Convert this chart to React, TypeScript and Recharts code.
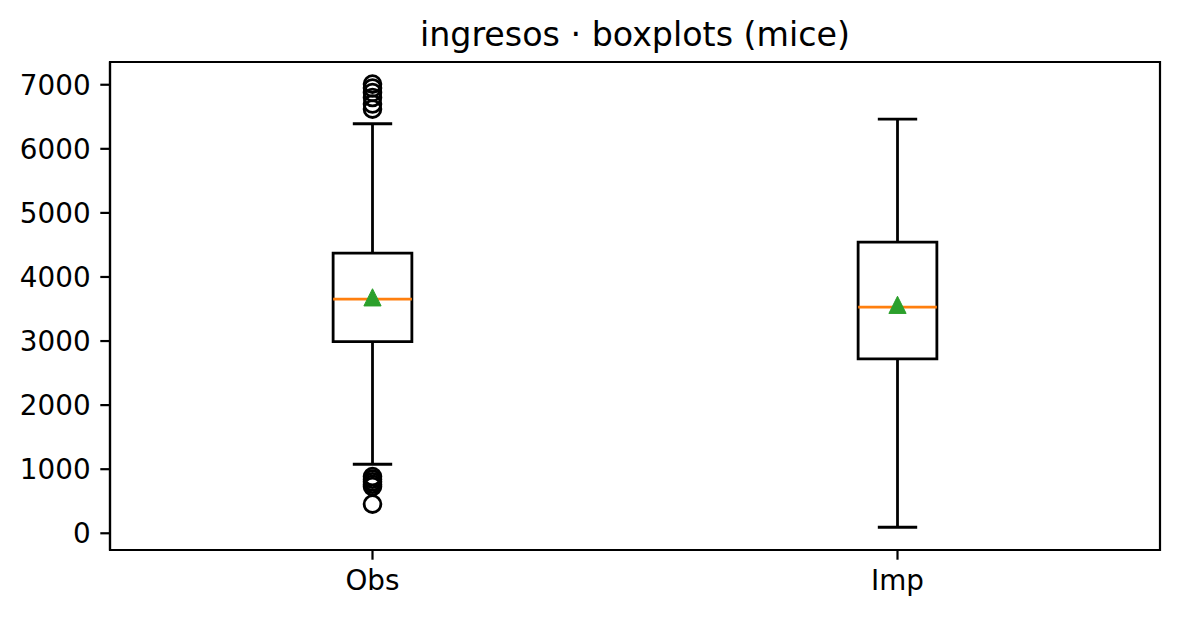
import React from "react";
import {
  ComposedChart,
  XAxis,
  YAxis,
  Scatter,
  ReferenceLine,
  ReferenceArea,
} from "recharts";

const categories = ["Obs", "Imp"];
const positions = [1, 2];
const q1Values = [2992, 2722];
const q3Values = [4372, 4544];
const medianValues = [3654, 3529];
const meanValues = [3682, 3565];
const whiskerLow = [1077, 94];
const whiskerHigh = [6391, 6465];
const outliersObs = [7010, 6950, 6880, 6800, 6700, 6620, 885, 845, 805, 765, 730, 455];
const outliersImp: number[] = [];
const yTicks = [0, 1000, 2000, 3000, 4000, 5000, 6000, 7000];

const Y_MIN = -261;
const Y_MAX = 7355;
const BOX_HALF = 0.075;
const CAP_HALF = 0.0375;

const W = 1180;
const H = 617;
const FONT = "DejaVu Sans";
const LW = 2.8;
const SPINE = 2.2;

const meanData = positions.map((p, i) => ({ x: p, y: meanValues[i] }));
const outlierData = [
  ...outliersObs.map((v) => ({ x: positions[0], y: v })),
  ...outliersImp.map((v) => ({ x: positions[1], y: v })),
];

const Triangle = (props: any) => {
  const { cx, cy } = props;
  if (cx == null || cy == null) return null;
  const s = 8.6;
  return (
    <polygon
      points={`${cx},${cy - s} ${cx - s},${cy + s} ${cx + s},${cy + s}`}
      fill="#2ca02c"
      stroke="#2ca02c"
      strokeWidth={1}
    />
  );
};

const Circle = (props: any) => {
  const { cx, cy } = props;
  if (cx == null || cy == null) return null;
  return <circle cx={cx} cy={cy} r={8.4} fill="none" stroke="#000" strokeWidth={LW} />;
};

export default function App() {
  return (
    <div style={{ position: "absolute", left: 0, top: 0, width: W, height: H, background: "#fff" }}>
      <svg
        width={W}
        height={H}
        style={{ position: "absolute", left: 0, top: 0, pointerEvents: "none", zIndex: 2 }}
      >
        <text
          x={635}
          y={46}
          textAnchor="middle"
          fontFamily={FONT}
          fontSize={33.3}
          fill="#000"
        >
          ingresos · boxplots (mice)
        </text>
      </svg>
      <ComposedChart
        width={W}
        height={H}
        margin={{ top: 62, right: 20, bottom: 0, left: 0 }}
        style={{ position: "absolute", left: 0, top: 0 }}
      >
        <XAxis
          type="number"
          dataKey="x"
          domain={[0.5, 2.5]}
          ticks={positions}
          tickFormatter={(v: number) => categories[positions.indexOf(v)] ?? ""}
          allowDataOverflow
          height={67}
          tickSize={9.7}
          tickMargin={10.5}
          axisLine={{ stroke: "#000", strokeWidth: SPINE }}
          tickLine={{ stroke: "#000", strokeWidth: SPINE }}
          tick={{ fill: "#000", fontFamily: FONT, fontSize: 27.8 }}
        />
        <YAxis
          type="number"
          dataKey="y"
          domain={[Y_MIN, Y_MAX]}
          ticks={yTicks}
          allowDataOverflow
          width={110}
          tickSize={9.7}
          tickMargin={9.7}
          axisLine={{ stroke: "#000", strokeWidth: SPINE }}
          tickLine={{ stroke: "#000", strokeWidth: SPINE }}
          tick={{ fill: "#000", fontFamily: FONT, fontSize: 27.8 }}
        />
        <ReferenceArea
          x1={0.5}
          x2={2.5}
          y1={Y_MIN}
          y2={Y_MAX}
          fill="none"
          stroke="#000"
          strokeWidth={SPINE}
          ifOverflow="visible"
        />
        {positions.map((p, i) => (
          <ReferenceLine
            key={`wh-${i}`}
            segment={[
              { x: p, y: q3Values[i] },
              { x: p, y: whiskerHigh[i] },
            ]}
            stroke="#000"
            strokeWidth={LW}
          />
        ))}
        {positions.map((p, i) => (
          <ReferenceLine
            key={`wl-${i}`}
            segment={[
              { x: p, y: q1Values[i] },
              { x: p, y: whiskerLow[i] },
            ]}
            stroke="#000"
            strokeWidth={LW}
          />
        ))}
        {positions.map((p, i) => (
          <ReferenceLine
            key={`ch-${i}`}
            segment={[
              { x: p - CAP_HALF, y: whiskerHigh[i] },
              { x: p + CAP_HALF, y: whiskerHigh[i] },
            ]}
            stroke="#000"
            strokeWidth={LW}
          />
        ))}
        {positions.map((p, i) => (
          <ReferenceLine
            key={`cl-${i}`}
            segment={[
              { x: p - CAP_HALF, y: whiskerLow[i] },
              { x: p + CAP_HALF, y: whiskerLow[i] },
            ]}
            stroke="#000"
            strokeWidth={LW}
          />
        ))}
        {positions.map((p, i) => (
          <ReferenceArea
            key={`box-${i}`}
            x1={p - BOX_HALF}
            x2={p + BOX_HALF}
            y1={q1Values[i]}
            y2={q3Values[i]}
            fill="none"
            fillOpacity={0}
            stroke="#000"
            strokeWidth={LW}
          />
        ))}
        {positions.map((p, i) => (
          <ReferenceLine
            key={`med-${i}`}
            segment={[
              { x: p - BOX_HALF, y: medianValues[i] },
              { x: p + BOX_HALF, y: medianValues[i] },
            ]}
            stroke="#ff7f0e"
            strokeWidth={LW}
          />
        ))}
        <Scatter data={outlierData} shape={Circle} isAnimationActive={false} />
        <Scatter data={meanData} shape={Triangle} isAnimationActive={false} />
      </ComposedChart>
    </div>
  );
}
